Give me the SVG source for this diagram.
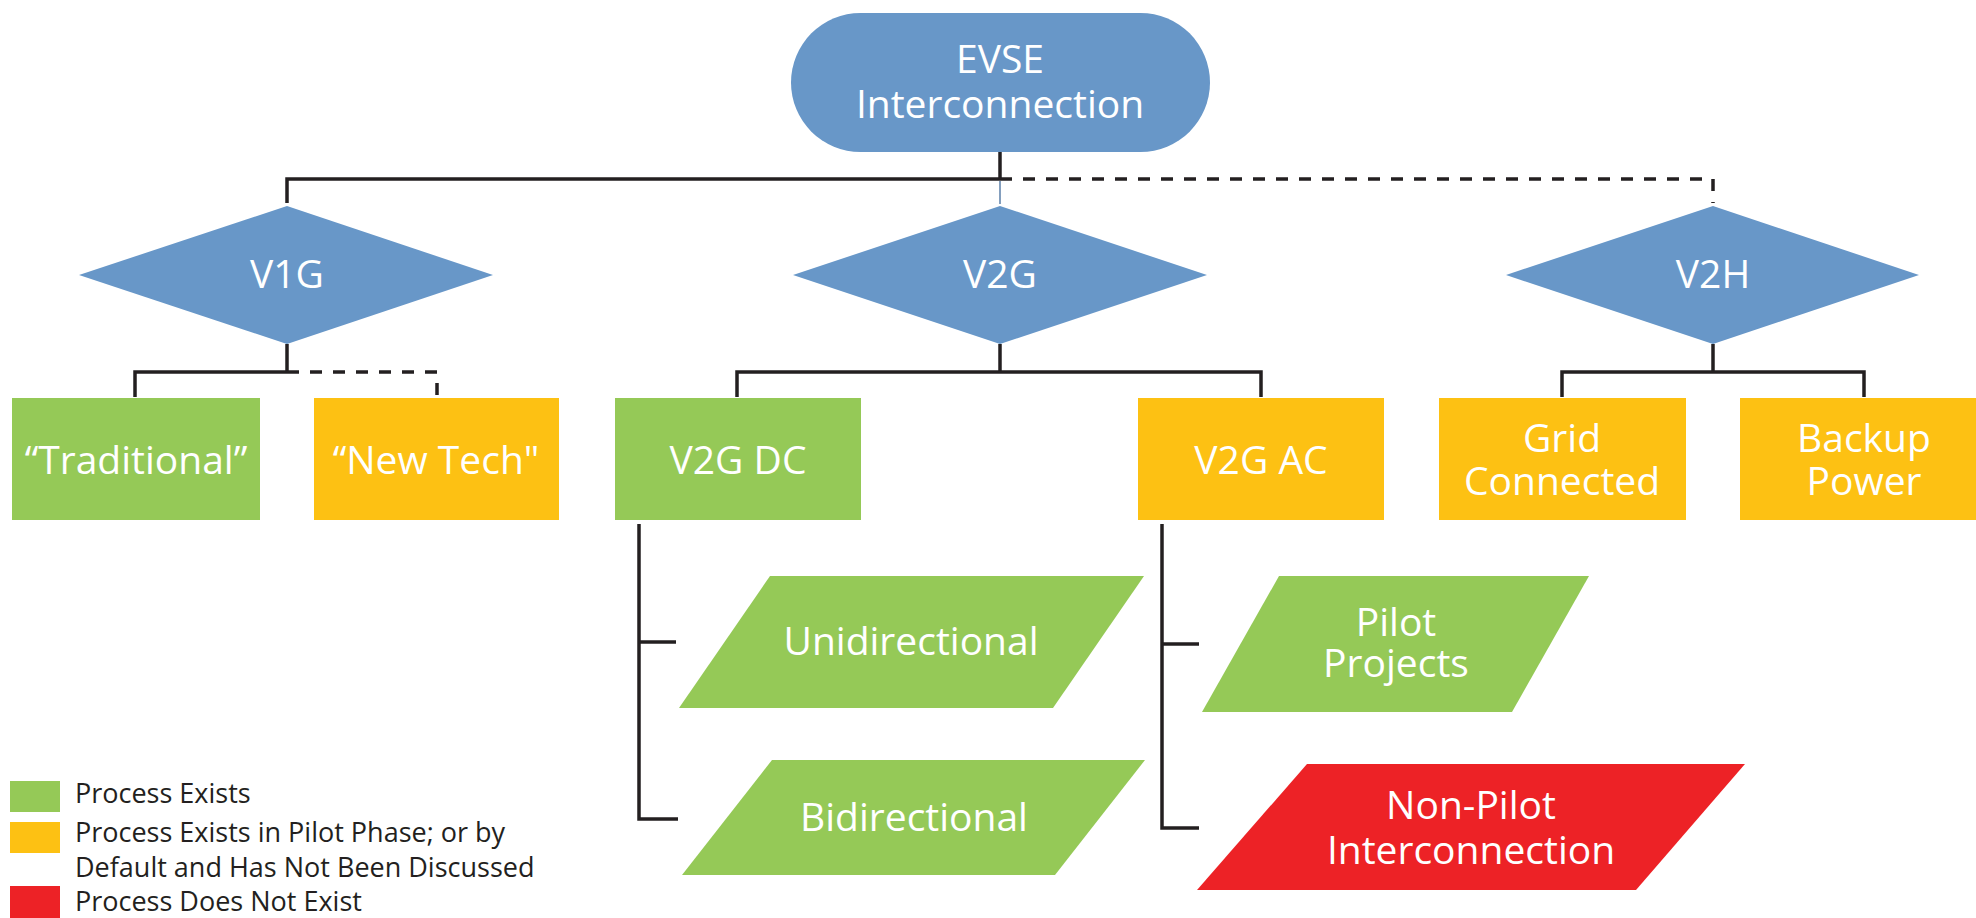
<svg xmlns="http://www.w3.org/2000/svg" width="1976" height="918" viewBox="0 0 1976 918">
<style>
.blue{fill:#6897c8}
.green{fill:#95c957}
.orange{fill:#fdc113}
.red{fill:#ed2226}
.lbl{font-family:"Open Sans","DejaVu Sans",sans-serif;font-size:39px;fill:#ffffff;text-anchor:middle}
.leg{font-family:"Open Sans","DejaVu Sans",sans-serif;font-size:27px;fill:#231f20}
.ln{fill:none;stroke:#231f20;stroke-width:3.5}
.dash{stroke-dasharray:12 11}
</style>
<rect width="1976" height="918" fill="#ffffff"/>
<g id="connectors">
<path class="ln" d="M1000,152 V179"/>
<path class="ln" d="M287,203 V179 H1000"/>
<path class="ln dash" d="M1000,179 H1713 V203"/>
<path d="M1000,181 V204" fill="none" stroke="#5b7fa8" stroke-width="1.5"/>
<path class="ln" d="M287,344 V372"/>
<path class="ln" d="M135,397 V372 H287"/>
<path class="ln dash" d="M287,372 H437 V395"/>
<path class="ln" d="M1000,344 V372"/>
<path class="ln" d="M737,397 V372 H1261 V397"/>
<path class="ln" d="M1713,344 V372"/>
<path class="ln" d="M1562,397 V372 H1864 V397"/>
<path class="ln" d="M639,524 V819 H678"/>
<path class="ln" d="M639,642 H676"/>
<path class="ln" d="M1162,524 V828 H1199"/>
<path class="ln" d="M1162,644 H1199"/>
</g>
<g id="evse">
<rect class="blue" x="791" y="13" width="419" height="139" rx="69.5"/>
<text class="lbl" x="1000" y="73">EVSE</text>
<text class="lbl" x="1000" y="118">Interconnection</text>
</g>
<g id="v1g">
<polygon class="blue" points="287,206 493,275 287,344 79,275"/>
<text class="lbl" x="287" y="288">V1G</text>
</g>
<g id="v2g">
<polygon class="blue" points="1000,206 1207,275 1000,344 793,275"/>
<text class="lbl" x="1000" y="288">V2G</text>
</g>
<g id="v2h">
<polygon class="blue" points="1713,206 1919,275 1713,344 1506,275"/>
<text class="lbl" x="1713" y="288">V2H</text>
</g>
<g id="traditional">
<rect class="green" x="12" y="398" width="248" height="122"/>
<text class="lbl" x="136" y="474">“Traditional”</text>
</g>
<g id="newtech">
<rect class="orange" x="314" y="398" width="245" height="122"/>
<text class="lbl" x="436" y="474">“New Tech"</text>
</g>
<g id="v2gdc">
<rect class="green" x="615" y="398" width="246" height="122"/>
<text class="lbl" x="738" y="474">V2G DC</text>
</g>
<g id="v2gac">
<rect class="orange" x="1138" y="398" width="246" height="122"/>
<text class="lbl" x="1261" y="474">V2G AC</text>
</g>
<g id="grid">
<rect class="orange" x="1439" y="398" width="247" height="122"/>
<text class="lbl" x="1562" y="452">Grid</text>
<text class="lbl" x="1562" y="495">Connected</text>
</g>
<g id="backup">
<rect class="orange" x="1740" y="398" width="246" height="122"/>
<text class="lbl" x="1864" y="452">Backup</text>
<text class="lbl" x="1864" y="495">Power</text>
</g>
<g id="unidirectional">
<polygon class="green" points="770,576 1144,576 1053,708 679,708"/>
<text class="lbl" x="911" y="655">Unidirectional</text>
</g>
<g id="bidirectional">
<polygon class="green" points="772,760 1145,760 1055,875 682,875"/>
<text class="lbl" x="914" y="831">Bidirectional</text>
</g>
<g id="pilot">
<polygon class="green" points="1279,576 1589,576 1512,712 1202,712"/>
<text class="lbl" x="1396" y="636">Pilot</text>
<text class="lbl" x="1396" y="677">Projects</text>
</g>
<g id="nonpilot">
<polygon class="red" points="1307,764 1745,764 1636,890 1197,890"/>
<text class="lbl" x="1471" y="819">Non-Pilot</text>
<text class="lbl" x="1471" y="864">Interconnection</text>
</g>
<g id="legend">
<rect class="green" x="10" y="781" width="50" height="31"/>
<rect class="orange" x="10" y="822" width="50" height="31"/>
<rect class="red" x="10" y="886" width="50" height="32"/>
<text class="leg" x="75" y="803">Process Exists</text>
<text class="leg" x="75" y="842">Process Exists in Pilot Phase; or by</text>
<text class="leg" x="75" y="877">Default and Has Not Been Discussed</text>
<text class="leg" x="75" y="911">Process Does Not Exist</text>
</g>
</svg>
